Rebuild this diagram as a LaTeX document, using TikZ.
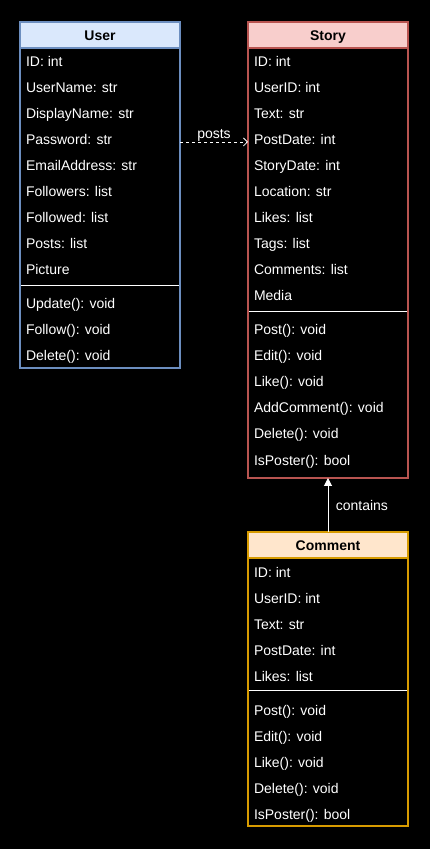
\documentclass[tikz,border=0pt]{standalone}
\usepackage{fontspec}
\setmainfont{Liberation Sans}
\usetikzlibrary{arrows.meta}
\tikzset{
  rowtext/.style={text=white,anchor=base west,inner sep=0pt,outer sep=0pt,yshift=-1pt,font=\fontsize{14}{16}\selectfont},
  headbox/.style={anchor=north west,minimum width=160pt,minimum height=26pt,inner sep=0pt,outer sep=0pt,line width=1.5pt,text=black,text height=12pt,text depth=0pt,font=\fontsize{14}{16}\selectfont\bfseries},
  classbox/.style={anchor=north west,minimum width=160pt,inner sep=0pt,outer sep=0pt,line width=1.5pt}
}
\begin{document}
\begin{tikzpicture}[x=1pt,y=1pt]
\definecolor{fillColor}{RGB}{0,0,0}
\path[use as bounding box,fill=fillColor] (0,0) rectangle (430,849);

% User
\definecolor{userFill}{RGB}{218,232,252}
\definecolor{userDraw}{RGB}{108,142,191}
\node[headbox,fill=userFill,draw=userDraw] (userhead) at (20,827) {User};
\node[classbox,draw=userDraw,minimum height=346pt] (user) at (20,827) {};

\node[rowtext] (userid) at (26,783) {ID: int};
\node[rowtext] (username) at (26,757) {UserName: str};
\node[rowtext] (userdisplay) at (26,731) {DisplayName: str};
\node[rowtext] (userpassword) at (26,705) {Password: str};
\node[rowtext] (useremail) at (26,679) {EmailAddress: str};
\node[rowtext] (userfollowers) at (26,653) {Followers: list};
\node[rowtext] (userfollowed) at (26,627) {Followed: list};
\node[rowtext] (userposts) at (26,601) {Posts: list};
\node[rowtext] (userpicture) at (26,575) {Picture};

\path[draw=white,line width=1pt] (21,563) -- (179,563);

\node[rowtext] (userupdate) at (26,541) {Update(): void};
\node[rowtext] (userfollow) at (26,515) {Follow(): void};
\node[rowtext] (userdelete) at (26,489) {Delete(): void};

% Story
\definecolor{storyFill}{RGB}{248,206,204}
\definecolor{storyDraw}{RGB}{184,84,80}
\node[headbox,fill=storyFill,draw=storyDraw] (storyhead) at (248,827) {Story};
\node[classbox,draw=storyDraw,minimum height=456pt] (story) at (248,827) {};

\node[rowtext] (storyid) at (254,783) {ID: int};
\node[rowtext] (storyuserid) at (254,757) {UserID: int};
\node[rowtext] (storytext) at (254,731) {Text: str};
\node[rowtext] (storypostdate) at (254,705) {PostDate: int};
\node[rowtext] (storydate) at (254,679) {StoryDate: int};
\node[rowtext] (storylocation) at (254,653) {Location: str};
\node[rowtext] (storylikes) at (254,627) {Likes: list};
\node[rowtext] (storytags) at (254,601) {Tags: list};
\node[rowtext] (storycomments) at (254,575) {Comments: list};
\node[rowtext] (storymedia) at (254,549) {Media};

\path[draw=white,line width=1pt] (249,537) -- (407,537);

\node[rowtext] (storypost) at (254,515) {Post(): void};
\node[rowtext] (storyedit) at (254,489) {Edit(): void};
\node[rowtext] (storylike) at (254,463) {Like(): void};
\node[rowtext] (storyaddcomment) at (254,437) {AddComment(): void};
\node[rowtext] (storydelete) at (254,411) {Delete(): void};
\node[rowtext] (storyisposter) at (254,384) {IsPoster(): bool};

% Comment
\definecolor{commentFill}{RGB}{255,230,204}
\definecolor{commentDraw}{RGB}{215,155,0}
\node[headbox,fill=commentFill,draw=commentDraw] (commenthead) at (248,317) {Comment};
\node[classbox,draw=commentDraw,minimum height=294pt] (comment) at (248,317) {};

\node[rowtext] (commentid) at (254,272) {ID: int};
\node[rowtext] (commentuserid) at (254,246) {UserID: int};
\node[rowtext] (commenttext) at (254,220) {Text: str};
\node[rowtext] (commentpostdate) at (254,194) {PostDate: int};
\node[rowtext] (commentlikes) at (254,168) {Likes: list};

\path[draw=white,line width=1pt] (249,158) -- (407,158);

\node[rowtext] (commentpost) at (254,134) {Post(): void};
\node[rowtext] (commentedit) at (254,108) {Edit(): void};
\node[rowtext] (commentlike) at (254,82) {Like(): void};
\node[rowtext] (commentdelete) at (254,56) {Delete(): void};
\node[rowtext] (commentisposter) at (254,30) {IsPoster(): bool};

% relations
\draw[white,line width=0.8pt,dash pattern=on 3pt off 3pt,-{Straight Barb[length=4pt,width=8pt]}]
  (user.east |- 0,707) -- node[midway,above=-3pt,text=white,font=\fontsize{14}{16}\selectfont] (postslabel) {posts} (story.west |- 0,707);
\draw[white,line width=1pt,-{Triangle[length=8pt,width=8pt]}]
  (comment.north) -- node[midway,right=4pt,text=white,font=\fontsize{14}{16}\selectfont] (containslabel) {contains} (story.south);
\end{tikzpicture}
\end{document}
